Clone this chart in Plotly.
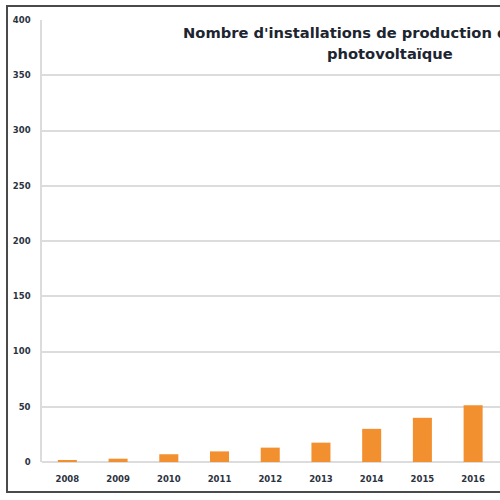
import plotly.graph_objects as go

years = ['2008', '2009', '2010', '2011', '2012', '2013', '2014', '2015', '2016']
installations = [1.5, 3, 7, 9.6, 13, 17.5, 30, 40, 51.3]

title_line1 = "Nombre d'installations de production d'électricité"
title_line2 = "photovoltaïque"

fig = go.Figure(go.Bar(
    x=years,
    y=installations,
    marker_color='#f28f2e',
    marker_line_width=0,
    width=0.375,
    hoverinfo='skip',
))

tick_font = dict(family='DejaVu Sans', size=8.5, color='#2b3340', weight='bold')
title_font = dict(family='DejaVu Sans', size=14.7, color='#1c2530', weight='bold')

fig.update_layout(
    width=500, height=500,
    margin=dict(l=42, r=0, t=20, b=38),
    paper_bgcolor='white',
    plot_bgcolor='white',
    showlegend=False,
    xaxis=dict(
        type='category',
        range=[-0.5, 8.53],
        showgrid=False,
        showline=False,
        ticks='',
        tickfont=tick_font,
        ticklabelstandoff=10,
    ),
    yaxis=dict(
        range=[0, 400],
        dtick=50,
        showgrid=True,
        gridcolor='#dcdcdc',
        gridwidth=1.5,
        showline=True,
        linecolor='#dcdcdc',
        linewidth=1.5,
        zeroline=True,
        zerolinecolor='#dcdcdc',
        zerolinewidth=1.5,
        ticks='',
        tickfont=tick_font,
        ticklabelstandoff=8,
    ),
    annotations=[
        dict(text=title_line1, xref='paper', yref='paper',
             x=0.7598, y=0.9706, xanchor='center', yanchor='middle',
             showarrow=False, font=title_font),
        dict(text=title_line2, xref='paper', yref='paper',
             x=0.7598, y=0.9253, xanchor='center', yanchor='middle',
             showarrow=False, font=title_font),
    ],
    shapes=[
        dict(type='rect', xref='paper', yref='paper',
             x0=-0.0764, x1=1.05, y0=-0.0679, y1=1.0317,
             line=dict(color='#4a4a4a', width=2), fillcolor='rgba(0,0,0,0)',
             layer='above'),
    ],
)

fig.write_html('out.html', config={'displayModeBar': False},
               post_script="document.body.style.margin='0';")
